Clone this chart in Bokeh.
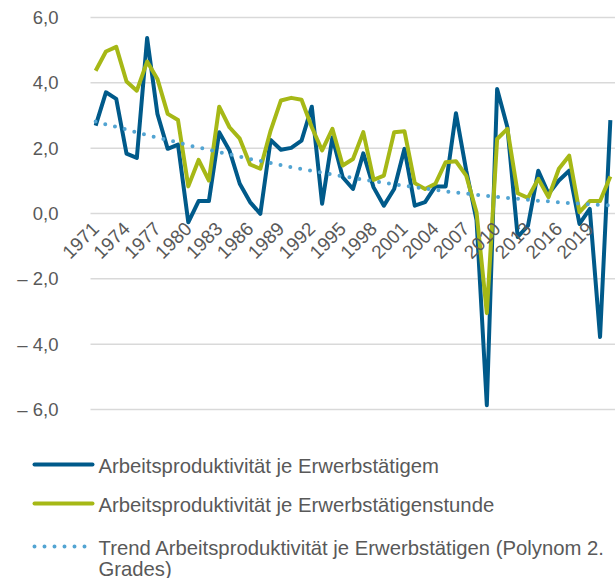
import math
from bokeh.plotting import figure
from bokeh.models import Range1d, FixedTicker
from bokeh.layouts import column
from bokeh.embed import file_html
from bokeh.resources import INLINE
from bokeh.core.properties import value

years = list(range(1971, 2022))

je_erwerbstaetigem = [
    2.69, 3.71, 3.51, 1.83, 1.70, 5.37, 3.05, 1.98, 2.11, -0.27,
    0.38, 0.38, 2.49, 1.93, 0.91, 0.35, -0.01, 2.25, 1.95, 2.01,
    2.23, 3.27, 0.30, 2.33, 1.11, 0.75, 1.84, 0.80, 0.24, 0.75,
    1.98, 0.24, 0.35, 0.83, 0.83, 3.07, 1.31, -0.20, -5.87, 3.81,
    2.64, -0.72, -0.37, 1.31, 0.60, 1.01, 1.31, -0.32, 0.14, -3.78,
    2.86,
]

je_stunde = [
    4.37, 4.96, 5.10, 4.04, 3.76, 4.65, 4.12, 3.05, 2.86, 0.83,
    1.64, 1.01, 3.27, 2.64, 2.29, 1.50, 1.37, 2.54, 3.46, 3.54,
    3.48, 2.64, 1.93, 2.59, 1.47, 1.67, 2.49, 1.03, 1.16, 2.49,
    2.52, 0.93, 0.75, 0.91, 1.57, 1.60, 1.16, 0.04, -3.05, 2.28,
    2.59, 0.62, 0.48, 1.06, 0.50, 1.37, 1.77, 0.04, 0.38, 0.38,
    1.13,
]

trend = [
    2.82, 2.73, 2.65, 2.57, 2.48, 2.40, 2.32, 2.25, 2.17, 2.09,
    2.02, 1.95, 1.88, 1.81, 1.74, 1.67, 1.61, 1.55, 1.48, 1.42,
    1.36, 1.31, 1.25, 1.19, 1.14, 1.09, 1.04, 0.99, 0.94, 0.89,
    0.85, 0.81, 0.76, 0.72, 0.68, 0.64, 0.61, 0.57, 0.54, 0.51,
    0.48, 0.45, 0.42, 0.39, 0.37, 0.34, 0.32, 0.30, 0.28, 0.26,
    0.25,
]

x_ticks = list(range(1971, 2020, 3))
x_tick_labels = [str(y) for y in x_ticks]
y_ticks = [-6, -4, -2, 0, 2, 4, 6]
y_tick_labels = ["\u2013 6,0", "\u2013 4,0", "\u2013 2,0", "0,0", "2,0", "4,0", "6,0"]

legend_labels = [
    "Arbeitsproduktivität je Erwerbstätigem",
    "Arbeitsproduktivität je Erwerbstätigenstunde",
    "Trend Arbeitsproduktivität je Erwerbstätigen (Polynom 2.\nGrades)",
]

BLUE = "#005a8a"
GREEN = "#a6b816"
TREND = "#52a4d2"
GRID = "#d9d9d9"
TEXT = "#595959"
FONT = "Liberation Sans"

X0, X1 = 1970.5, 2021.5          # category extent
PX_PER_YEAR = 525 / 51.0
X_LEFT = X0 - 90 / PX_PER_YEAR   # frame reaches the left edge of the page

PX_PER_UNIT = 392 / 12.0
MAIN_H = 430
Y_TOP = 6 + 17 / PX_PER_UNIT
Y_BOT = -6 - (MAIN_H - 409) / PX_PER_UNIT

p = figure(
    width=615, height=MAIN_H,
    x_range=Range1d(X_LEFT, X1), y_range=Range1d(Y_BOT, Y_TOP),
    output_backend="svg", toolbar_location=None,
    min_border=0,
)
p.outline_line_color = None
p.xgrid.visible = False
p.ygrid.visible = False

# horizontal gridlines spanning only the category extent
p.segment(x0=[X0] * len(y_ticks), y0=y_ticks, x1=[X1] * len(y_ticks), y1=y_ticks,
          line_color=GRID, line_width=1.5)

p.yaxis.fixed_location = X0
p.yaxis.ticker = FixedTicker(ticks=y_ticks)
p.yaxis.major_label_overrides = dict(zip(y_ticks, y_tick_labels))
p.yaxis.axis_line_color = None
p.yaxis.major_tick_line_color = None
p.yaxis.minor_tick_line_color = None
p.yaxis.major_label_text_font = FONT
p.yaxis.major_label_text_font_size = "18.5px"
p.yaxis.major_label_text_color = TEXT
p.yaxis.major_label_standoff = 26

p.xaxis.fixed_location = 0
p.xaxis.ticker = FixedTicker(ticks=x_ticks)
p.xaxis.major_label_overrides = dict(zip(x_ticks, x_tick_labels))
p.xaxis.major_label_orientation = math.pi / 4
p.xaxis.axis_line_color = None
p.xaxis.major_tick_line_color = None
p.xaxis.minor_tick_line_color = None
p.xaxis.major_label_text_font = FONT
p.xaxis.major_label_text_font_size = "19px"
p.xaxis.major_label_text_color = TEXT
p.xaxis.major_label_standoff = 6

p.line(years, je_erwerbstaetigem, line_color=BLUE, line_width=4, line_join="round")
p.line(years, je_stunde, line_color=GREEN, line_width=4, line_join="round")
p.line(years, trend, line_color=TREND, line_width=4, line_dash="0 10", line_cap="round")

# legend panel (coordinates = page pixels)
lg = figure(
    width=615, height=578 - MAIN_H,
    x_range=Range1d(0, 615), y_range=Range1d(578, MAIN_H),
    output_backend="svg", toolbar_location=None,
    x_axis_type=None, y_axis_type=None, min_border=0,
)
lg.outline_line_color = None
lg.grid.visible = False

row_y = [464, 503, 546]
colors = [BLUE, GREEN, TREND]
for i, (lab, col) in enumerate(zip(legend_labels, colors)):
    yy = row_y[i]
    if i < 2:
        lg.line([34, 92], [yy, yy], line_color=col, line_width=4, line_cap="round")
    else:
        lg.line([34, 92], [yy, yy], line_color=col, line_width=4, line_dash="0 10", line_cap="round")
    parts = lab.split("\n")
    lg.text(x=[98] * len(parts), y=[yy + 1 + 21 * k for k in range(len(parts))], text=parts,
            text_font=value(FONT), text_font_size="20.3px", text_color=TEXT,
            text_baseline="middle", text_align="left")

layout = column(p, lg)
open("out.html", "w").write(file_html(layout, INLINE))
